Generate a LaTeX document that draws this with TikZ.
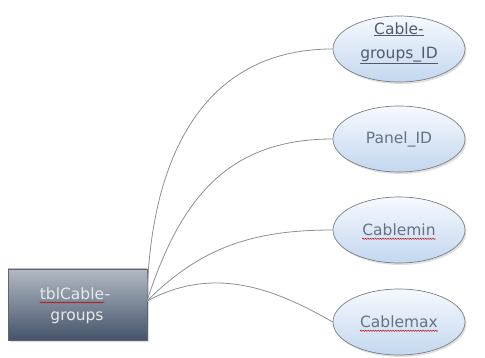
\documentclass[tikz,border=0pt]{standalone}
\usepackage{fontspec}
\setmainfont{DejaVu Sans}
\usetikzlibrary{shapes.geometric,shadows,decorations.pathmorphing}
\definecolor{elltop}{HTML}{F6F9FE}
\definecolor{ellbot}{HTML}{C3D7EF}
\definecolor{ellline}{HTML}{7A7F86}
\definecolor{elltext}{HTML}{667284}
\definecolor{recttop}{HTML}{B2BAC3}
\definecolor{rectbot}{HTML}{44536A}
\definecolor{recttext}{HTML}{E6E9EE}
\definecolor{linkcol}{HTML}{8C8F93}
\tikzset{
  attr/.style={ellipse, draw=ellline, line width=0.7pt, minimum width=132pt, minimum height=66pt, inner sep=0pt,
    top color=elltop, bottom color=ellbot, drop shadow={opacity=0.25, shadow xshift=1.5pt, shadow yshift=-2pt}},
  etxt/.style={inner sep=0pt, text=elltext, font=\fontsize{15.5}{24}\selectfont},
  tbl/.style={rectangle, draw=ellline!80!black, line width=0.6pt, minimum width=139pt, minimum height=71pt, inner sep=0pt,
    top color=recttop, bottom color=rectbot, drop shadow={opacity=0.3, shadow xshift=2pt, shadow yshift=-2pt}},
  rtxt/.style={inner sep=0pt, text=recttext, font=\fontsize{15.5}{18}\selectfont},
  link/.style={draw=linkcol, line width=0.8pt},
  wavy/.style={draw=red!75!black, line width=0.5pt, decorate, decoration={snake, amplitude=0.6pt, segment length=2.5pt}},
}
\begin{document}
\begin{tikzpicture}[x=1pt,y=-1pt]
\useasboundingbox (0,0) rectangle (485,358);
% table
\node[tbl] (t) at (77.5,304.5) {};
% attributes
\node[attr] (a1) at (399,49) {};
\node[attr] (a2) at (399,139) {};
\node[attr] (a3) at (399,230) {};
\node[attr] (a4) at (399,322) {};
% connectors
\coordinate (hub) at (147,301);
\draw[link] (hub) to[out=89,in=180,looseness=1.1] (a1.west);
\draw[link] (hub) to[out=72,in=180,looseness=1.1] (a2.west);
\draw[link] (hub) to[out=45,in=180] (a3.west);
\draw[link] (hub) to[out=28,in=150] (a4.west);
% texts
\node[etxt, text=elltext!80!black, align=center] (l1) at (399,43) {\underline{Cable-}\\\underline{groups\_ID}};
\node[etxt] (l2) at (399,139) {Panel\_ID};
\node[etxt] (l3) at (399,230) {Cablemin};
\node[etxt] (l4) at (399,322) {Cablemax};
\draw[wavy] ([yshift=-3pt]l3.base west) -- ([yshift=-3pt]l3.base east);
\draw[wavy] ([yshift=-3pt]l4.base west) -- ([yshift=-3pt]l4.base east);
\node[rtxt, anchor=base] (r1) at (72,300) {tblCable};
\node[rtxt, anchor=base west] (r1h) at (r1.base east) {-};
\node[rtxt, anchor=base] (r2) at (77,320) {groups};
\draw[wavy] ([yshift=-2.5pt]r1.base west) -- ([yshift=-2.5pt]r1.base east);
\end{tikzpicture}
\end{document}
